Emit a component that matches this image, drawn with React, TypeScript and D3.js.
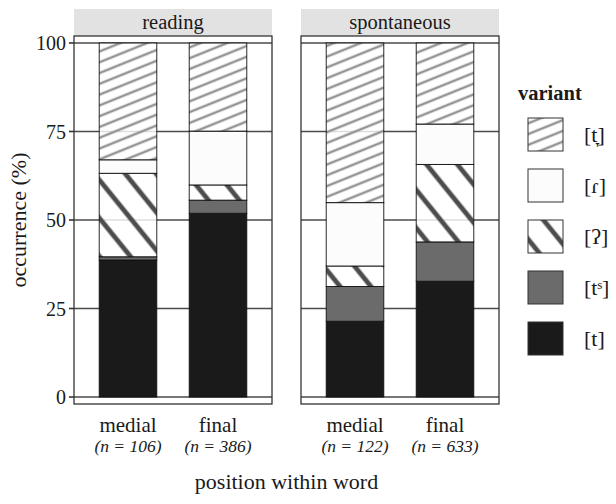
import React from 'react';
import * as d3 from 'd3';

// stacked share of /t/ variants by speech style and word position
const styles = ['reading', 'spontaneous'];
const positions = ['medial', 'final'];
const counts = [['106', '386'], ['122', '633']];

// legend order, top to bottom
const variants = ['[t̞]', '[ɾ]', '[ʔ]', '[tˢ]', '[t]'];
// stack order, bottom to top
const stackKeys = ['t', 'ts', 'glottal', 'tap', 'lenis'];

// values per column: reading-medial, reading-final, spontaneous-medial, spontaneous-final
const tPlain = [38.7, 51.9, 21.4, 32.7];
const tAffric = [0.9, 3.7, 9.8, 11.1];
const tGlottal = [23.6, 4.3, 5.8, 21.9];
const tTap = [3.8, 15.2, 17.9, 11.4];
const tLenis = [33.0, 24.9, 45.1, 22.9];

const yTicks = [0, 25, 50, 75, 100];

const fills: Record<string, string> = {
  t: '#1a1a1a',
  ts: '#6b6b6b',
  glottal: 'url(#pat-glottal)',
  tap: '#fcfcfc',
  lenis: 'url(#pat-lenis)',
};
const legendKeys = ['lenis', 'tap', 'glottal', 'ts', 't'];

const font = '"Liberation Serif", "Times New Roman", serif';

const App = () => {
  const width = 616;
  const height = 504;
  const panelW = 198;
  const panelX = [74, 301];
  const panelTop = 36;
  const panelBottom = 404;
  const stripTop = 9;

  const y = d3.scaleLinear().domain([0, 100]).range([397, 43]);

  const rows = styles.flatMap((s, si) =>
    positions.map((p, pi) => {
      const i = si * 2 + pi;
      return {
        style: s,
        pos: p,
        t: tPlain[i],
        ts: tAffric[i],
        glottal: tGlottal[i],
        tap: tTap[i],
        lenis: tLenis[i],
      };
    })
  );
  const series = d3.stack<any>().keys(stackKeys)(rows);

  return (
    <svg width={width} height={height} style={{ display: 'block', position: 'absolute', left: 0, top: 0 }}>
      <defs>
        <pattern id="pat-lenis" patternUnits="userSpaceOnUse" width={10} height={10} patternTransform="rotate(-22)">
          <rect width={10} height={10} fill="#ffffff" fillOpacity={0.82} />
          <line x1={0} x2={10} y1={5} y2={5} stroke="#959595" strokeWidth={2.5} />
        </pattern>
        <pattern id="pat-glottal" patternUnits="userSpaceOnUse" width={24} height={24} patternTransform="rotate(51)">
          <rect width={24} height={24} fill="#ffffff" fillOpacity={0.82} />
          <line x1={0} x2={24} y1={12} y2={12} stroke="#4d4d4d" strokeWidth={4.8} />
        </pattern>
      </defs>
      <rect width={width} height={height} fill="#ffffff" />

      {styles.map((s, si) => {
        const x = d3.scalePoint().domain(positions).range([panelX[si], panelX[si] + panelW]).padding(0.6);
        const bw = x.step() * 0.64;
        return (
          <g key={s}>
            <rect x={panelX[si]} y={stripTop} width={panelW} height={panelTop - stripTop} fill="#e2e2e2" />
            <text x={panelX[si] + panelW / 2} y={29} textAnchor="middle" fontFamily={font} fontSize={20.5} fill="#1a1a1a">
              {s}
            </text>
            <rect x={panelX[si]} y={panelTop} width={panelW} height={panelBottom - panelTop} fill="#ffffff" />
            {yTicks.map((t) => (
              <line key={t} x1={panelX[si]} x2={panelX[si] + panelW} y1={y(t)} y2={y(t)} stroke="#4a4a4a" strokeWidth={1.6} />
            ))}
            {series.map((ser) =>
              ser
                .filter((d) => d.data.style === s)
                .map((d) => (
                  <rect
                    key={ser.key + d.data.pos}
                    x={(x(d.data.pos) as number) - bw / 2}
                    y={y(d[1])}
                    width={bw}
                    height={y(d[0]) - y(d[1])}
                    fill={fills[ser.key]}
                    stroke="#111"
                    strokeWidth={0.9}
                  />
                ))
            )}
            <rect x={panelX[si]} y={panelTop} width={panelW} height={panelBottom - panelTop} fill="none" stroke="#333" strokeWidth={1.3} />
            {positions.map((p, pi) => (
              <g key={p}>
                <text x={x(p)} y={432} textAnchor="middle" fontFamily={font} fontSize={21} fill="#1a1a1a">
                  {p}
                </text>
                <text x={x(p)} y={452} textAnchor="middle" fontFamily={font} fontStyle="italic" fontSize={17.5} fill="#1a1a1a">
                  {`(n = ${counts[si][pi]})`}
                </text>
              </g>
            ))}
          </g>
        );
      })}

      {yTicks.map((t) => (
        <g key={t}>
          <line x1={69} x2={74} y1={y(t)} y2={y(t)} stroke="#333" strokeWidth={1.6} />
          <text x={66} y={y(t) + 7} textAnchor="end" fontFamily={font} fontSize={20} fill="#1a1a1a">
            {t}
          </text>
        </g>
      ))}

      <text
        transform={`translate(26,${(y(0) + y(100)) / 2}) rotate(-90)`}
        textAnchor="middle"
        fontFamily={font}
        fontSize={22}
        fill="#1a1a1a"
      >
        occurrence (%)
      </text>
      <text x={(panelX[0] + panelX[1] + panelW) / 2} y={489} textAnchor="middle" fontFamily={font} fontSize={22} fill="#1a1a1a">
        position within word
      </text>

      <text x={518} y={100} fontFamily={font} fontWeight="bold" fontSize={20.5} fill="#1a1a1a">
        variant
      </text>
      {legendKeys.map((k, i) => (
        <g key={k} transform={`translate(528,${118 + i * 51})`}>
          <rect width={35} height={33} fill={fills[k]} stroke="#333" strokeWidth={1} />
          <text x={56} y={24} fontFamily={font} fontSize={22} fill="#1a1a1a">
            {variants[i]}
          </text>
        </g>
      ))}
    </svg>
  );
};

export default App;
